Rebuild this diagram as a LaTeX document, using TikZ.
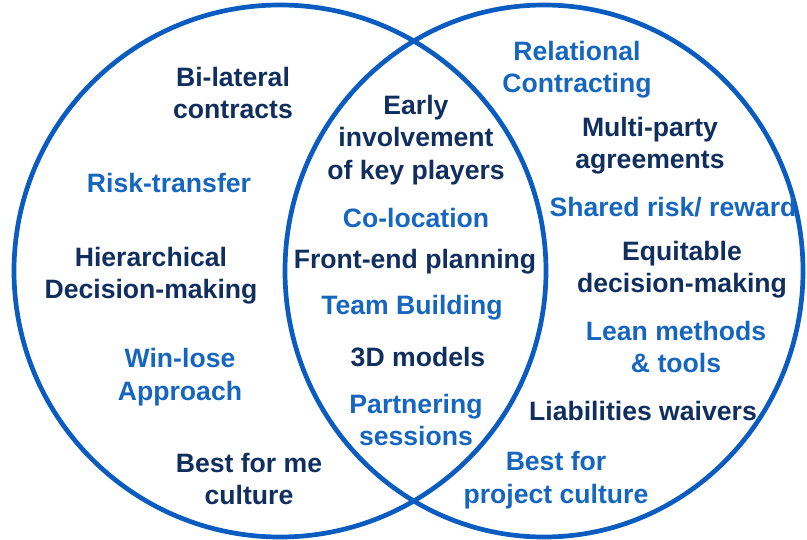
\documentclass[tikz,border=0pt]{standalone}
\usepackage{fontspec}
\setmainfont{Liberation Sans}
\definecolor{ringblue}{RGB}{10,92,192}
\definecolor{txtblue}{RGB}{22,102,192}
\definecolor{txtnavy}{RGB}{16,46,94}
\begin{document}
\begin{tikzpicture}[x=1pt,y=-1pt,
  ring/.style={draw=ringblue,line width=4.7pt},
  lbl/.style={align=center,inner sep=0pt,font=\fontsize{26.6}{32.3}\selectfont\bfseries},
  bl/.style={lbl,text=txtblue},
  dk/.style={lbl,text=txtnavy}]
\useasboundingbox (0,0) rectangle (807,540);
\draw[ring] (280,271) ellipse [x radius=266,y radius=266];
\draw[ring] (544,271) ellipse [x radius=259,y radius=266];
% left
\node[dk] (bilat) at (233,93) {Bi-lateral\\contracts};
\node[bl] (risk) at (169,183) {Risk-transfer};
\node[dk] (hier) at (151,276) {Hierarchical\\Decision-making};
\node[bl] (win) at (180,377) {Win-lose\\Approach};
\node[dk] (bestme) at (249,479) {Best for me\\culture};
% middle
\node[dk] (early) at (416,140) {Early\\involvement\\of key players};
\node[bl] (coloc) at (416,218) {Co-location};
\node[dk] (front) at (415,262) {Front-end planning};
\node[bl] (team) at (412,308) {Team Building};
\node[dk] (models) at (418,357) {3D models};
\node[bl] (partner) at (416,420) {Partnering\\sessions};
% right
\node[bl] (rel) at (577,70) {Relational\\Contracting};
\node[dk] (multi) at (650,146) {Multi-party\\agreements};
\node[bl] (shared) at (673,207) {Shared risk/ reward};
\node[dk] (equit) at (682,270) {Equitable\\decision-making};
\node[bl] (lean) at (676,347) {Lean methods\\\& tools};
\node[dk] (liab) at (643,411) {Liabilities waivers};
\node[bl] (bestproj) at (556,480) {Best for\\project culture};
\end{tikzpicture}
\end{document}
